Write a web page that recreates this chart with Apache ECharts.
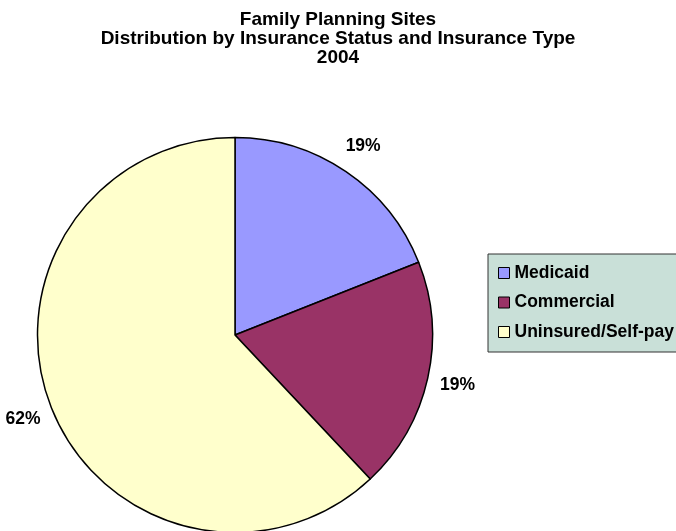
<!DOCTYPE html>
<html>
<head>
<meta charset="utf-8">
<script src="https://cdn.jsdelivr.net/npm/echarts@6/dist/echarts.min.js"></script>
<style>
html,body{margin:0;padding:0;background:#fff;}
#main{width:676px;height:531px;}
</style>
</head>
<body>
<div id="main"></div>
<script>
const titleLines = ['Family Planning Sites', 'Distribution by Insurance Status and Insurance Type', '2004'];
const categories = ['Medicaid', 'Commercial', 'Uninsured/Self-pay'];
const values = [19, 19, 62];
const colors = ['#9999ff', '#993366', '#ffffcc'];

const FONT = '"Liberation Sans", Arial, Helvetica, sans-serif';
const pieData = categories.map((c, i) => ({ name: c, value: values[i], itemStyle: { color: colors[i] } }));
const labelData = categories.map((c, i) => ({ name: c, value: values[i] }));

const chart = echarts.init(document.getElementById('main'), null, { renderer: 'canvas' });
chart.setOption({
  animation: false,
  backgroundColor: '#ffffff',
  title: {
    text: titleLines.join('\n'),
    left: 'center',
    top: 5,
    textStyle: { fontFamily: FONT, fontSize: 19, fontWeight: 'bold', color: '#000', lineHeight: 19 }
  },
  legend: {
    orient: 'vertical',
    left: 488,
    top: 254,
    data: categories,
    backgroundColor: '#c9e0d8',
    borderColor: '#333333',
    borderWidth: 1,
    padding: [10, 20, 11, 10],
    itemWidth: 11,
    itemHeight: 11,
    itemGap: 11.5,
    icon: 'rect',
    itemStyle: { borderColor: '#000', borderWidth: 1 },
    textStyle: { fontFamily: FONT, fontSize: 17.5, fontWeight: 'bold', color: '#000', lineHeight: 18 }
  },
  series: [
    {
      type: 'pie',
      center: [235, 335],
      radius: [0, 197.5],
      startAngle: 90,
      clockwise: true,
      silent: true,
      label: { show: false },
      labelLine: { show: false },
      itemStyle: { borderColor: '#000', borderWidth: 1.5 },
      data: pieData
    },
    {
      type: 'pie',
      center: [235, 335],
      radius: [220, 230],
      startAngle: 90,
      clockwise: true,
      silent: true,
      legendHoverLink: false,
      itemStyle: { color: 'rgba(0,0,0,0)', borderWidth: 0 },
      label: {
        show: true,
        position: 'inside',
        formatter: '{d}%',
        fontFamily: FONT, fontSize: 17.5, fontWeight: 'bold', color: '#000'
      },
      labelLine: { show: false },
      data: labelData
    }
  ]
});
</script>
</body>
</html>
